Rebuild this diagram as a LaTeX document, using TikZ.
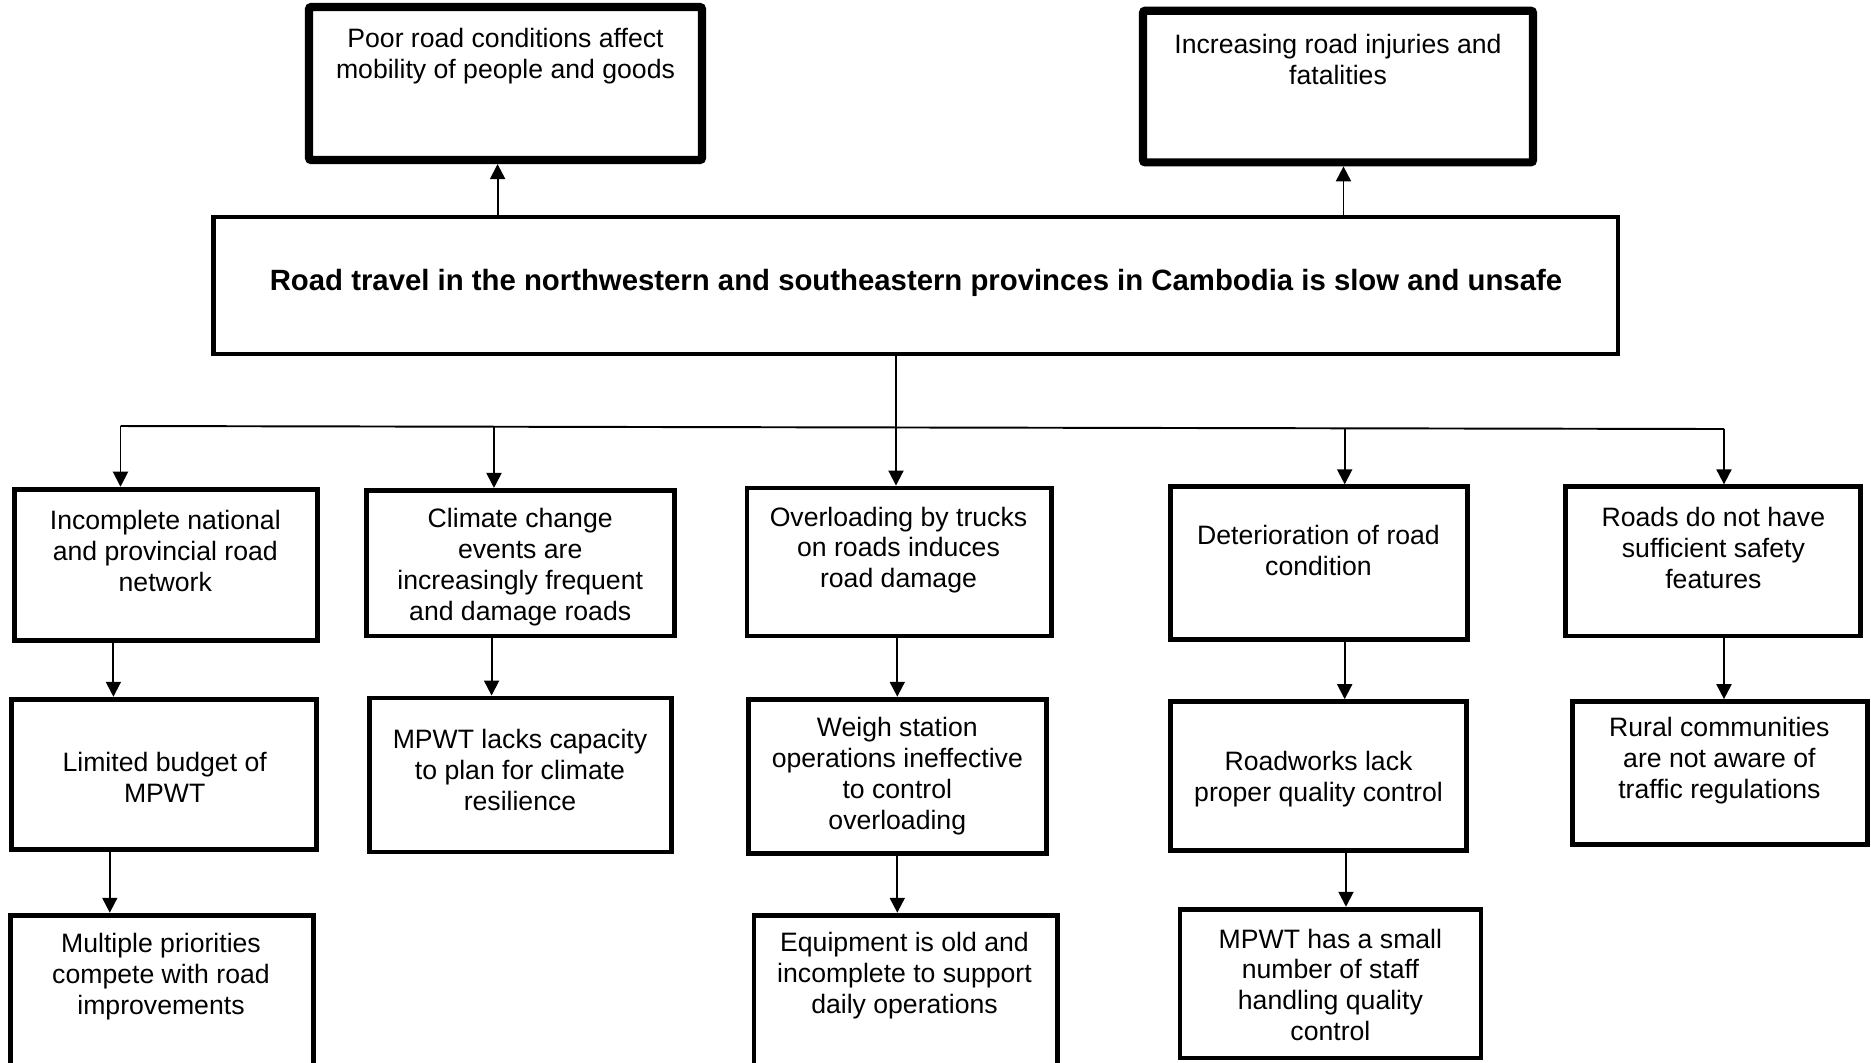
\documentclass[tikz,border=0pt]{standalone}
\usepackage{fontspec}
\setmainfont{Liberation Sans}
\usetikzlibrary{arrows.meta,fit}
\begin{document}
\begin{tikzpicture}[x=0.01cm,y=-0.01cm,
  box/.style={draw, line width=1.4pt, inner sep=0pt},
  topbox/.style={box, line width=2.3pt, rounded corners=0.6pt},
  txt/.style={align=center, inner sep=0pt, yshift=-0.022cm, font=\fontsize{7.57pt}{8.75pt}\selectfont},
  btxt/.style={txt, font=\fontsize{8.34pt}{9.6pt}\selectfont\bfseries},
  conn/.style={line width=0.55pt},
  arr/.style={conn, -{Triangle[length=0.15cm,width=0.15cm]}}]
\useasboundingbox (0,0) rectangle (1871,1062);
\fill[white] (0,0) rectangle (1871,1062);
\clip (0,0) rectangle (1871,1062);

% top effect boxes
\node[topbox, fit={(309,7) (702,160)}] (T1) {};
\node[txt] (T1t) at (505.5,53.7) {Poor road conditions affect\\mobility of people and goods};
\node[topbox, fit={(1143,10.7) (1533,162.3)}] (T2) {};
\node[txt] (T2t) at (1338,57.3) {Increasing road injuries and\\fatalities};

% main problem
\node[box, fit={(213.6,217) (1618,354)}] (M) {};
\node[btxt] (Mt) at (916,281) {Road travel in the northwestern and southeastern provinces in Cambodia is slow and unsafe};

% row 1
\node[box, fit={(14.3,489.2) (317.4,640.7)}] (R1a) {};
\node[txt] (R1at) at (165.3,548.9) {Incomplete national\\and provincial road\\network};
\node[box, fit={(366.3,490.4) (674.2,636)}] (R1b) {};
\node[txt] (R1bt) at (520.2,565) {Climate change\\events are\\increasingly frequent\\and damage roads};
\node[box, fit={(747,488) (1051.2,636)}] (R1c) {};
\node[txt] (R1ct) at (898.5,547.7) {Overloading by trucks\\on roads induces\\road damage};
\node[box, fit={(1170.5,486.8) (1467.6,639.6)}] (R1d) {};
\node[txt] (R1dt) at (1318.5,548.3) {Deterioration of road\\condition};
\node[box, fit={(1565.5,486.8) (1860.2,636)}] (R1e) {};
\node[txt] (R1et) at (1713.4,545.9) {Roads do not have\\sufficient safety\\features};

% row 2
\node[box, fit={(11.9,699.2) (316.2,849.6)}] (R2a) {};
\node[txt] (R2at) at (164.7,775) {Limited budget of\\MPWT};
\node[box, fit={(369.9,698) (671.8,852)}] (R2b) {};
\node[txt] (R2bt) at (520,767.8) {MPWT lacks capacity\\to plan for climate\\resilience};
\node[box, fit={(748.1,699.2) (1046.4,853.1)}] (R2c) {};
\node[txt] (R2ct) at (897.3,773.8) {Weigh station\\operations ineffective\\to control\\overloading};
\node[box, fit={(1170.5,701.6) (1466.4,850.7)}] (R2d) {};
\node[txt] (R2dt) at (1318.5,776.8) {Roadworks lack\\proper quality control};
\node[box, fit={(1572.6,701.6) (1867.4,844.8)}] (R2e) {};
\node[txt] (R2et) at (1719.4,758.3) {Rural communities\\are not aware of\\traffic regulations};

% row 3
\node[box, fit={(10.7,915.2) (313.8,1085)}] (R3a) {};
\node[txt] (R3at) at (161,974.3) {Multiple priorities\\compete with road\\improvements};
\node[box, fit={(754,915.2) (1057.2,1085)}] (R3c) {};
\node[txt] (R3ct) at (904.5,973.6) {Equipment is old and\\incomplete to support\\daily operations};
\node[box, fit={(1180,909.2) (1481,1058)}] (R3d) {};
\node[txt] (R3dt) at (1330.4,982.6) {MPWT has a small\\number of staff\\handling quality\\control};

% connectors: main to effects
\coordinate (u1) at (497.6,0);
\coordinate (u2) at (1343.5,0);
\draw[arr] (M.north -| u1) -- (T1.south -| u1);
\draw[arr] (M.north -| u2) -- (T2.south -| u2);

% trunk and bus
\coordinate (trunk) at (896,427);
\coordinate (b1) at (120.5,426);
\coordinate (b2) at (494,426.5);
\coordinate (b3) at (896,427);
\coordinate (b4) at (1344.7,428);
\coordinate (b5) at (1724,429);
\draw[conn] (M.south -| trunk) -- (trunk);
\draw[conn] (b1) -- (b5);
\draw[arr] (b1) -- (b1 |- R1a.north);
\draw[arr] (b2) -- (b2 |- R1b.north);
\draw[arr] (b3) -- (b3 |- R1c.north);
\draw[arr] (b4) -- (b4 |- R1d.north);
\draw[arr] (b5) -- (b5 |- R1e.north);

% row 1 to row 2
\coordinate (c1) at (113.4,0);
\coordinate (c2) at (491.6,0);
\coordinate (c3) at (897.3,0);
\coordinate (c4) at (1344.7,0);
\coordinate (c5) at (1724,0);
\draw[arr] (R1a.south -| c1) -- (R2a.north -| c1);
\draw[arr] (R1b.south -| c2) -- (R2b.north -| c2);
\draw[arr] (R1c.south -| c3) -- (R2c.north -| c3);
\draw[arr] (R1d.south -| c4) -- (R2d.north -| c4);
\draw[arr] (R1e.south -| c5) -- (R2e.north -| c5);

% row 2 to row 3
\coordinate (d1) at (109.8,0);
\coordinate (d3) at (897.3,0);
\coordinate (d4) at (1346,0);
\draw[arr] (R2a.south -| d1) -- (R3a.north -| d1);
\draw[arr] (R2c.south -| d3) -- (R3c.north -| d3);
\draw[arr] (R2d.south -| d4) -- (R3d.north -| d4);
\end{tikzpicture}
\end{document}
